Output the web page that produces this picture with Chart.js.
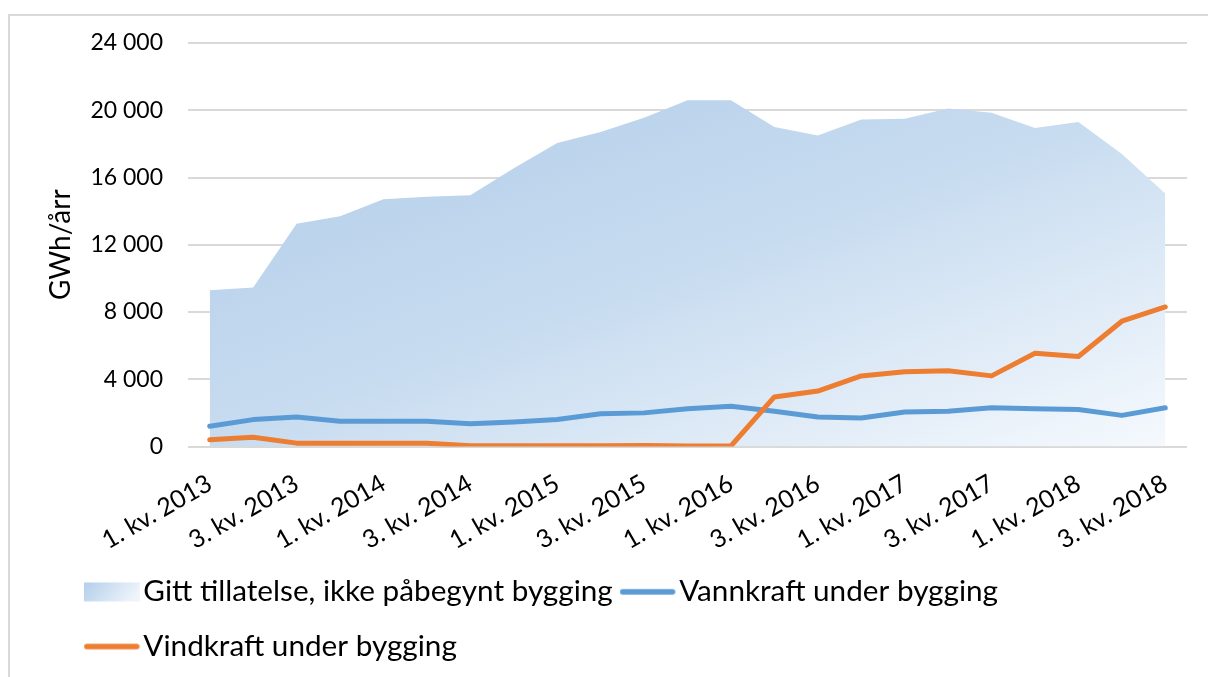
<!DOCTYPE html>
<html>
<head>
<meta charset="utf-8">
<script src="https://cdn.jsdelivr.net/npm/chart.js@4.4.0/dist/chart.umd.min.js"></script>
<style>
  html, body { margin: 0; padding: 0; background: #fff; }
  #wrap { position: relative; width: 1208px; height: 677px; overflow: hidden; }
  #frame { position: absolute; left: 8px; top: 14px; right: -10px; bottom: -10px;
           border-left: 2px solid #d9d9d9; border-top: 2px solid #d9d9d9; pointer-events: none; }
  canvas { position: absolute; left: 0; top: 0; }
</style>
</head>
<body>
<div id="wrap">
  <canvas id="kraftChart" width="1208" height="677"></canvas>
  <div id="frame"></div>
</div>
<script>
// quarters on the x axis
var quarters = [
    '1. kv. 2013', '2. kv. 2013', '3. kv. 2013', '4. kv. 2013',
    '1. kv. 2014', '2. kv. 2014', '3. kv. 2014', '4. kv. 2014',
    '1. kv. 2015', '2. kv. 2015', '3. kv. 2015', '4. kv. 2015',
    '1. kv. 2016', '2. kv. 2016', '3. kv. 2016', '4. kv. 2016',
    '1. kv. 2017', '2. kv. 2017', '3. kv. 2017', '4. kv. 2017',
    '1. kv. 2018', '2. kv. 2018', '3. kv. 2018'
]

// GWh/år
var tillatelse = [9300, 9450, 13250, 13700, 14700, 14850, 14950, 16550, 18050, 18700, 19550, 20600,
    20600, 19000, 18500, 19450, 19500, 20100, 19850, 18950, 19300, 17400, 15050]
var vannkraft = [1200, 1600, 1750, 1500, 1500, 1500, 1350, 1450, 1600, 1950, 2000, 2250,
    2400, 2100, 1750, 1700, 2050, 2100, 2300, 2250, 2200, 1850, 2300]
var vindkraft = [400, 550, 200, 200, 200, 200, 50, 50, 50, 50, 60, 30,
    30, 2950, 3300, 4200, 4450, 4500, 4200, 5550, 5350, 7450, 8300]

var yTicks = [0, 4000, 8000, 12000, 16000, 20000, 24000]

var labelNames = ['Gitt tillatelse, ikke påbegynt bygging', 'Vannkraft under bygging', 'Vindkraft under bygging']
var blue = '#5b9bd5'
var orange = '#ed7d31'

Chart.defaults.font.family = 'Lato'
Chart.defaults.color = '#000'

// gradient of the area, darkest top-left, lightest bottom-right
function areaGradient(context) {
    var chart = context.chart
    if (!chart.chartArea) return '#c6dcf0'
    var xs = chart.scales.x, ys = chart.scales.y
    var x0 = xs.getPixelForValue(0)
    var x1 = xs.getPixelForValue(quarters.length - 1)
    var y0 = ys.getPixelForValue(Math.max.apply(null, tillatelse))
    var y1 = ys.getPixelForValue(0)
    var w = x1 - x0, h = y1 - y0
    var t = 2 * w * h / (w * w + h * h)
    var g = chart.ctx.createLinearGradient(x0, y0, x0 + t * h, y0 + t * w)
    g.addColorStop(0, '#b0cce8')
    g.addColorStop(0.5, '#c8dcf0')
    g.addColorStop(1, '#f5f9fd')
    return g
}

// legend swatches drawn on small canvases
function swatch(kind, color) {
    var c = document.createElement('canvas')
    c.width = 63
    c.height = 20
    var g = c.getContext('2d')
    if (kind === 'box') {
        var gr = g.createLinearGradient(0, 0, 40, 30)
        gr.addColorStop(0, '#b3cfea')
        gr.addColorStop(1, '#eef4fb')
        g.fillStyle = gr
        g.fillRect(0, 0.5, 56, 19)
    } else {
        g.strokeStyle = color
        g.lineWidth = 5.5
        g.lineCap = 'round'
        g.beginPath()
        g.moveTo(3, 10)
        g.lineTo(53, 10)
        g.stroke()
    }
    return c
}
var swatches = [swatch('box'), swatch('line', blue), swatch('line', orange)]

var data = {
    labels: quarters,
    datasets: [
        {
            label: labelNames[0],
            data: tillatelse,
            fill: 'origin',
            backgroundColor: areaGradient,
            borderWidth: 0,
            pointRadius: 0,
            order: 3,
        },
        {
            label: labelNames[1],
            data: vannkraft,
            borderColor: blue,
            borderWidth: 5,
            borderCapStyle: 'round',
            borderJoinStyle: 'round',
            pointRadius: 0,
            tension: 0,
            fill: false,
            order: 2,
        },
        {
            label: labelNames[2],
            data: vindkraft,
            borderColor: orange,
            borderWidth: 5,
            borderCapStyle: 'round',
            borderJoinStyle: 'round',
            pointRadius: 0,
            tension: 0,
            fill: false,
            order: 1,
        },
    ],
}

// push the legend rows right so they start under the frame like the original
var legendShift = {
    id: 'legendShift',
    afterLayout: function (chart) {
        chart.legend.left = 77
    }
}

var config = {
    type: 'line',
    data: data,
    plugins: [legendShift],
    options: {
        responsive: false,
        animation: false,
        layout: { padding: { left: 0, right: 21, top: 43, bottom: 5.6 } },
        scales: {
            x: {
                offset: true,
                grid: { display: false, drawTicks: false },
                border: { display: false },
                ticks: {
                    autoSkip: false,
                    minRotation: 30,
                    maxRotation: 30,
                    padding: 22,
                    font: { size: 25 },
                    callback: function (value, index) {
                        return index % 2 === 0 ? this.getLabelForValue(value) : ''
                    }
                },
                afterFit: function (scale) { scale.height = 105.5 }
            },
            y: {
                min: yTicks[0],
                max: yTicks[yTicks.length - 1],
                grid: { color: '#d9d9d9', lineWidth: 2, drawTicks: false },
                border: { display: false },
                afterBuildTicks: function (scale) {
                    scale.ticks = yTicks.map(function (v) { return { value: v } })
                },
                ticks: {
                    padding: 25,
                    font: { size: 23 },
                    callback: function (value) {
                        return String(value).replace(/\B(?=(\d{3})+(?!\d))/g, ' ')
                    }
                },
                title: {
                    display: true,
                    text: 'GWh/årr',
                    font: { size: 28 },
                    padding: { top: 44, bottom: 0 }
                },
                afterFit: function (scale) { scale.width = 188 }
            }
        },
        plugins: {
            tooltip: { enabled: false },
            legend: {
                position: 'bottom',
                align: 'start',
                labels: {
                    usePointStyle: true,
                    pointStyleWidth: 26.5,
                    padding: 25,
                    font: { size: 29.7 },
                    color: '#000',
                    generateLabels: function (chart) {
                        return chart.data.datasets.map(function (ds, i) {
                            return {
                                text: ds.label,
                                pointStyle: swatches[i],
                                fillStyle: 'transparent',
                                strokeStyle: 'transparent',
                                lineWidth: 0,
                                hidden: false,
                                datasetIndex: i
                            }
                        })
                    }
                }
            }
        }
    }
}

var canvas = document.getElementById('kraftChart')
var chart = new Chart(canvas, config)
</script>
</body>
</html>
